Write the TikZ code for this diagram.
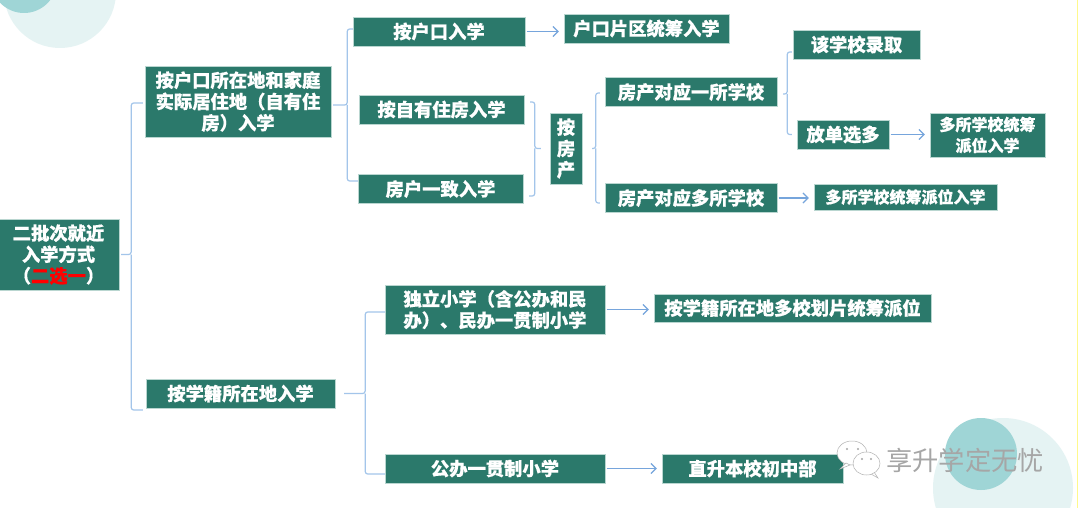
\documentclass[tikz,border=0pt]{standalone}
\usepackage{fontspec}
\setmainfont{Noto Sans CJK SC}[BoldFeatures={FakeBold=0.5}]
\usetikzlibrary{arrows.meta}
\definecolor{boxfill}{HTML}{2B796B}
\definecolor{boxedge}{HTML}{B9D6D0}
\definecolor{linkblue}{HTML}{A3C5EA}
\definecolor{arrowblue}{HTML}{76A5DC}
\definecolor{circlelight}{HTML}{E5F3F3}
\definecolor{circledark}{HTML}{9FD5D6}
\tikzset{
  x=1pt,y=-1pt,
  box/.style={draw=boxedge,line width=0.4pt,fill=boxfill,text=white,font=\fontsize{18.3}{21.3}\selectfont\bfseries,align=center,inner sep=0pt},
  smallbox/.style={box,font=\fontsize{16}{21}\selectfont\bfseries},
  link/.style={draw=linkblue,line width=1.2pt,rounded corners=2.5pt},
  flow/.style={draw=arrowblue,line width=1.2pt,-{Straight Barb[length=5pt,width=10pt]},shorten <=1.5pt,shorten >=5pt},
  bubble/.style={draw=black!30,line width=0.5pt,fill=white},
}
\begin{document}
\begin{tikzpicture}
\useasboundingbox (0,0) rectangle (1080,508);
\fill[white] (0,0) rectangle (1080,508);
\begin{scope}
\clip (0,0) rectangle (1080,508);
\fill[circlelight] (60,-8) circle[radius=56];
\fill[circledark] (24,-20) circle[radius=33];
\fill[circlelight] (1003,488) circle[radius=70];
\fill[circledark] (981,454) circle[radius=36];
\end{scope}
\fill[yellow!45] (1076.5,0) rectangle (1078,508);

\begin{scope}
\clip (0,0) rectangle (1080,508);
\node[box,minimum width=121,minimum height=71] (root) at (58.5,254.5) {二批次就近\\入学方式\\（{\color{red}二选一}）};
\end{scope}
\node[box,minimum width=186,minimum height=71] (A) at (238,101.5) {按户口所在地和家庭\\实际居住地（自有住\\房）入学};
\node[box,minimum width=189,minimum height=29] (B) at (240.5,393.5) {按学籍所在地入学};
\node[box,minimum width=172,minimum height=29] (C1) at (439,31.5) {按户口入学};
\node[box,minimum width=165,minimum height=29] (C2) at (441.5,109.5) {按自有住房入学};
\node[box,minimum width=165,minimum height=29] (C3) at (440.5,189) {房户一致入学};
\node[box,minimum width=32,minimum height=71] (P) at (566,148.5) {按\\房\\产};
\node[box,minimum width=165,minimum height=29] (D1) at (646.5,28.5) {户口片区统筹入学};
\node[box,minimum width=172,minimum height=29] (E1) at (691,92) {房产对应一所学校};
\node[box,minimum width=172,minimum height=29] (E2) at (691,198) {房产对应多所学校};
\node[box,minimum width=127,minimum height=29] (F1) at (856.5,44.5) {该学校录取};
\node[box,minimum width=92,minimum height=29] (F2) at (843,134.5) {放单选多};
\node[smallbox,minimum width=115,minimum height=44] (G1) at (987.5,135) {多所学校统筹\\派位入学};
\node[smallbox,minimum width=183,minimum height=26] (G2) at (905.5,197) {多所学校统筹派位入学};
\node[box,minimum width=220,minimum height=49,align=left] (H1) at (495,309.5) {独立小学（含公办和民\\办）、民办一贯制小学};
\node[box,minimum width=220,minimum height=29] (H2) at (495,468.5) {公办一贯制小学};
\node[box,minimum width=277,minimum height=28] (I1) at (792.5,308) {按学籍所在地多校划片统筹派位};
\node[box,minimum width=181,minimum height=29] (I2) at (752.5,468.5) {直升本校初中部};

% brackets
\coordinate (s0) at ([xshift=12pt]root.east);
\draw[link] ([xshift=2pt]root.east) -- (s0) |- ([xshift=-2pt,yshift=-1.5pt]A.west);
\draw[link] (s0) |- ([xshift=-3pt,yshift=-16.5pt]B.west);

\coordinate (s1) at ([xshift=16pt,yshift=-3.5pt]A.east);
\draw[link] ([xshift=2pt,yshift=-3.5pt]A.east) -- (s1) |- ([yshift=2.5pt]C1.west);
\draw[link] (s1) |- ([yshift=8pt]C3.west);

\coordinate (s2) at ([xshift=30pt]B.east);
\draw[link] ([xshift=9pt]B.east) -- (s2) |- ([yshift=-2.5pt]H1.west);
\draw[link] (s2) |- ([yshift=-5.5pt]H2.west);

\coordinate (s3) at ([xshift=-15pt]P.west);
\draw[link] ([xshift=6pt,yshift=7.5pt]C2.east) -| (s3) -- ([xshift=-9pt]P.west);
\draw[link] ([xshift=6pt,yshift=-7pt]C3.east) -| (s3);

\coordinate (s4) at ([xshift=13.5pt]P.east);
\draw[link] ([xshift=10pt]P.east) -- (s4) |- ([xshift=-5pt,yshift=-1pt]E1.west);
\draw[link] (s4) |- ([xshift=-5pt,yshift=-5pt]E2.west);

\coordinate (s5) at ([xshift=10pt,yshift=-2pt]E1.east);
\draw[link] ([xshift=6pt,yshift=-2pt]E1.east) -- (s5) |- ([xshift=-1pt,yshift=-7.5pt]F1.west);
\draw[link] (s5) |- ([xshift=-5pt]F2.west);

% arrows
\draw[flow] (C1.east) -- (C1.east -| D1.west);
\draw[flow] (F2.east) -- (F2.east -| G1.west);
\draw[flow] (E2.east) -- (E2.east -| G2.west);
\draw[flow] (H1.east) -- (H1.east -| I1.west);
\draw[flow] (H2.east) -- (H2.east -| I2.west);

% watermark
\filldraw[bubble] (852,453) ellipse[x radius=15,y radius=12];
\filldraw[bubble] (846,463) -- (840,469) -- (850,465) -- cycle;
\fill[black!35] (847,449) circle[radius=1.1] (858,449) circle[radius=1.1];
\filldraw[bubble] (874,472) -- (878,478) -- (871,474) -- cycle;
\filldraw[bubble] (866.5,463.5) ellipse[x radius=13.5,y radius=11.5];
\fill[black!35] (862,459) circle[radius=1.1] (871,459) circle[radius=1.1];
\node[text=black!35,font=\fontsize{26.3}{30}\selectfont,inner sep=0pt] (wm) at (965,460) {享升学定无忧};
\end{tikzpicture}
\end{document}
